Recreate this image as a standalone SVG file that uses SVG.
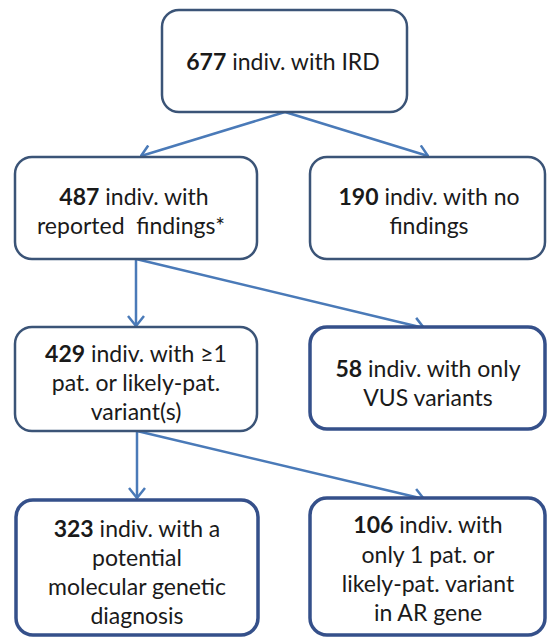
<svg xmlns="http://www.w3.org/2000/svg" width="547" height="638" viewBox="0 0 547 638">
  <defs>
    <marker id="arr" viewBox="0 0 12 18" refX="11" refY="9" markerWidth="12" markerHeight="18" markerUnits="userSpaceOnUse" orient="auto">
      <path d="M1,1 L11,9 L1,17" fill="none" stroke="#4a7ab8" stroke-width="2.5"/>
    </marker>
  </defs>
  <style>
    .box { fill: #ffffff; stroke: #3b5477; stroke-width: 2.5; }
    .thick { stroke: #35508a; stroke-width: 3.5; }
    .t { font-family: Lato, "Open Sans", "Liberation Sans", sans-serif; font-size: 23px; fill: #1a1a1a; text-anchor: middle; }
    .b { font-weight: bold; }
    .conn { stroke: #4a7ab8; stroke-width: 2.5; fill: none; marker-end: url(#arr); }
  </style>
  <rect width="547" height="638" fill="#ffffff"/>
  <g id="connectors">
    <line class="conn" x1="285" y1="112" x2="141" y2="156"/>
    <line class="conn" x1="285" y1="112" x2="428" y2="156"/>
    <line class="conn" x1="136" y1="259" x2="136" y2="326"/>
    <line class="conn" x1="136" y1="259" x2="424" y2="328"/>
    <line class="conn" x1="137" y1="431" x2="137" y2="498"/>
    <line class="conn" x1="137" y1="431" x2="424" y2="499"/>
  </g>
  <g id="n677">
    <rect class="box" x="162" y="10" width="245" height="102" rx="17"/>
    <text class="t" x="283" y="70"><tspan class="b">677</tspan> indiv. with IRD</text>
  </g>
  <g id="n487">
    <rect class="box" x="15" y="157" width="242" height="102" rx="17"/>
    <text class="t" x="134" y="205"><tspan class="b">487</tspan> indiv. with</text>
    <text class="t" x="131" y="234" xml:space="preserve">reported  findings*</text>
  </g>
  <g id="n190">
    <rect class="box" x="310" y="157" width="235" height="102" rx="17"/>
    <text class="t" x="429" y="205"><tspan class="b">190</tspan> indiv. with no</text>
    <text class="t" x="429" y="234">findings</text>
  </g>
  <g id="n429">
    <rect class="box" x="15" y="327" width="242" height="104" rx="17"/>
    <text class="t" x="136" y="362"><tspan class="b">429</tspan> indiv. with ≥1</text>
    <text class="t" x="136" y="391">pat. or likely-pat.</text>
    <text class="t" x="136" y="420">variant(s)</text>
  </g>
  <g id="n58">
    <rect class="box thick" x="310" y="327" width="235" height="102" rx="17"/>
    <text class="t" x="428" y="377"><tspan class="b">58</tspan> indiv. with only</text>
    <text class="t" x="428" y="406">VUS variants</text>
  </g>
  <g id="n323">
    <rect class="box thick" x="16" y="500" width="242" height="135" rx="17"/>
    <text class="t" x="137" y="537"><tspan class="b">323</tspan> indiv. with a</text>
    <text class="t" x="137" y="566">potential</text>
    <text class="t" x="137" y="595">molecular genetic</text>
    <text class="t" x="137" y="624">diagnosis</text>
  </g>
  <g id="n106">
    <rect class="box thick" x="310" y="498" width="235" height="137" rx="17"/>
    <text class="t" x="428" y="533"><tspan class="b">106</tspan> indiv. with</text>
    <text class="t" x="428" y="563">only 1 pat. or</text>
    <text class="t" x="428" y="592">likely-pat. variant</text>
    <text class="t" x="428" y="621">in AR gene</text>
  </g>
</svg>
